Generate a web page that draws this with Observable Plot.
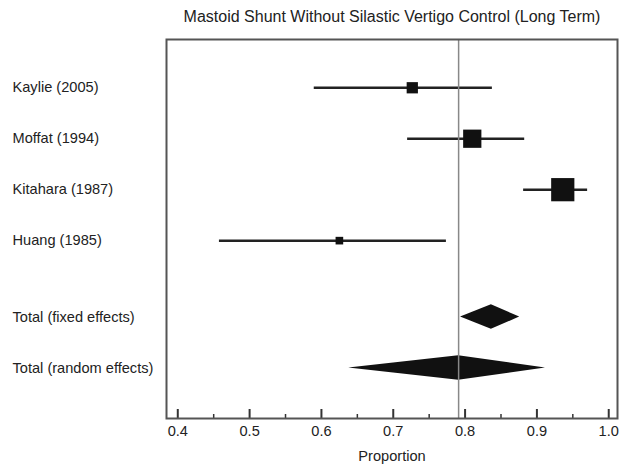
<!DOCTYPE html>
<html>
<head>
<meta charset="utf-8">
<script src="https://cdn.jsdelivr.net/npm/d3@7"></script>
<script src="https://cdn.jsdelivr.net/npm/@observablehq/plot@0.6"></script>
<style>
  html, body { margin: 0; padding: 0; background: white; overflow: hidden; }
</style>
</head>
<body>
<div id="chart"></div>
<script>
const chartTitle = "Mastoid Shunt Without Silastic Vertigo Control (Long Term)";
const xLabel = "Proportion";

const studies = ["Kaylie (2005)", "Moffat (1994)", "Kitahara (1987)", "Huang (1985)"];
const estimates = [0.7265, 0.810, 0.936, 0.625];
const lower = [0.590, 0.720, 0.8815, 0.458];
const upper = [0.838, 0.883, 0.9706, 0.774];
const weights = [12.0, 31.5, 51.0, 5.5];

const totals = ["Total (fixed effects)", "Total (random effects)"];
const totalEst = [0.8366, 0.791];
const totalLower = [0.7937, 0.638];
const totalUpper = [0.876, 0.912];

const majorTicks = [0.4, 0.5, 0.6, 0.7, 0.8, 0.9, 1.0];
const minorTicks = [0.45, 0.55, 0.65, 0.75, 0.85, 0.95];

// rows: studies at 0..n-1, a blank gap, then totals
const studyRows = studies.map((name, i) => ({
  name, row: i, est: estimates[i], lo: lower[i], hi: upper[i], w: weights[i]
}));
const totalRows = totals.map((name, j) => ({
  name, row: studies.length + 0.5 + j, est: totalEst[j], lo: totalLower[j], hi: totalUpper[j]
}));
const allRows = [...studyRows, ...totalRows];

const halfH = 0.24;
const diamondPts = totalRows.flatMap(d => [
  {id: d.name, x: d.lo, y1: d.row, y2: d.row},
  {id: d.name, x: d.est, y1: d.row - halfH, y2: d.row + halfH},
  {id: d.name, x: d.hi, y1: d.row, y2: d.row}
]);

const ink = "#111";
const chart = Plot.plot({
  width: 626,
  height: 465,
  marginLeft: 166,
  marginRight: 9,
  marginTop: 39,
  marginBottom: 47,
  style: {fontFamily: "'Liberation Sans', Arial, sans-serif", fontSize: "14.6px", color: "#222", background: "white"},
  x: {domain: [0.3843, 1.0122], axis: null},
  y: {domain: [-0.947, 6.49], reverse: true, axis: null},
  r: {type: "sqrt", domain: [0, 51], range: [0, 13.1]},
  marks: [
    Plot.ruleY(studyRows, {x1: "lo", x2: "hi", y: "row", stroke: "#222", strokeWidth: 2.5}),
    Plot.dot(studyRows, {x: "est", y: "row", r: "w", symbol: "square", fill: ink, stroke: "none"}),
    Plot.areaY(diamondPts, {x: "x", y1: "y1", y2: "y2", z: "id", fill: ink, curve: "linear"}),
    Plot.ruleX([totalEst[1]], {stroke: "#888", strokeWidth: 1.5}),
    Plot.text(allRows, {text: "name", y: "row", frameAnchor: "left", dx: -154, textAnchor: "start", fill: "#222"}),
    Plot.axisX(majorTicks, {anchor: "bottom", tickSize: -9, fill: "none", stroke: "#333", strokeWidth: 2, label: null}),
    Plot.axisX(minorTicks, {anchor: "bottom", tickSize: -4, fill: "none", stroke: "#333", strokeWidth: 1.5, label: null}),
    Plot.axisX(majorTicks, {anchor: "bottom", tickSize: 0, tickPadding: 7, tickFormat: d3.format(".1f"), label: null, fill: "#222", fontSize: "14.6px"}),
    Plot.text([xLabel], {frameAnchor: "bottom", dy: 38, lineAnchor: "middle", fill: "#222"}),
    Plot.text([chartTitle], {frameAnchor: "top", dy: -23, lineAnchor: "middle", fill: "#222", fontSize: "16px"}),
    Plot.frame({stroke: "#555", strokeWidth: 2})
  ]
});
document.getElementById("chart").appendChild(chart);
</script>
</body>
</html>
